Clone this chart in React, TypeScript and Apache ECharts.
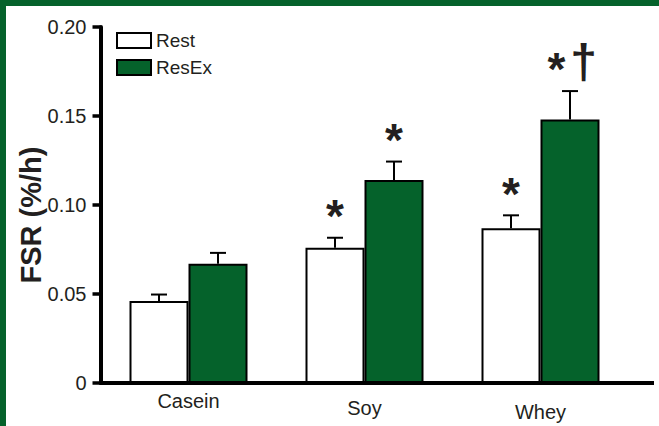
import React, { useEffect, useRef } from "react";
import * as echarts from "echarts";

// Protein sources on the x axis
const categories = ["Casein", "Soy", "Whey"];

// Fractional synthetic rate, mean and SE (%/h)
const restMean = [0.046, 0.076, 0.087];
const restSE = [0.0037, 0.0056, 0.0072];
const resexMean = [0.067, 0.114, 0.148];
const resexSE = [0.0061, 0.0104, 0.016];

// Significance markers drawn above each bar
const restMarks = ["", "*", "*"];
const resexMarks = ["", "*", "*†"];

// Y axis ticks
const yMin = 0;
const yMax = 0.2;
const yStep = 0.05;

const GREEN = "#05622b";
const INK = "#231f20";
const FONT = '"Liberation Sans", Arial, Helvetica, sans-serif';
const BAR_W = 59;
const CAP_HALF = 8;
const MARK_GAP = 30;
const MARK_SPACING = 27;
const STAR_SIZE = 46;
const DAGGER_SIZE = 48;

const labelOffsets = [0, 7, 11];

function errorSeries(name: string, means: number[], ses: number[], marks: string[], side: number) {
  return {
    type: "custom",
    name,
    silent: true,
    z: 5,
    data: means.map((m, i) => [i, m, ses[i]]),
    renderItem: (params: any, api: any) => {
      const i = api.value(0);
      const m = api.value(1);
      const se = api.value(2);
      const base = api.coord([i, m]);
      const top = api.coord([i, m + se]);
      const x = base[0] + (side * BAR_W) / 2;
      const children: any[] = [
        {
          type: "line",
          shape: { x1: x, y1: base[1], x2: x, y2: top[1] },
          style: { stroke: "#000", lineWidth: 2 },
        },
        {
          type: "line",
          shape: { x1: x - CAP_HALF, y1: top[1], x2: x + CAP_HALF, y2: top[1] },
          style: { stroke: "#000", lineWidth: 2 },
        },
      ];
      const chars = Array.from(marks[params.dataIndex] || "");
      const n = chars.length;
      chars.forEach((ch, k) => {
        const isStar = ch === "*";
        children.push({
          type: "text",
          x: x + (k - (n - 1) / 2) * MARK_SPACING,
          y: top[1] - MARK_GAP + (isStar ? STAR_SIZE * 0.18 : 0),
          style: {
            text: ch,
            fontSize: isStar ? STAR_SIZE : DAGGER_SIZE,
            fontFamily: FONT,
            fontWeight: "bold",
            fill: INK,
            align: "center",
            verticalAlign: "middle",
          },
        });
      });
      return { type: "group", children };
    },
  };
}

export default function App() {
  const ref = useRef<HTMLDivElement>(null);

  useEffect(() => {
    if (!ref.current) return;
    const chart = echarts.init(ref.current, undefined, { renderer: "svg" });
    const rich: any = {};
    labelOffsets.forEach((off, i) => {
      rich["c" + i] = { fontSize: 20, fontFamily: FONT, color: INK, padding: [off, 0, 0, 0] };
    });
    chart.setOption({
      animation: false,
      backgroundColor: "#fff",
      grid: { left: 100.5, right: 30.5, top: 27, bottom: 43, containLabel: false },
      legend: {
        orient: "vertical",
        left: 116,
        top: 31,
        padding: 0,
        itemWidth: 34,
        itemHeight: 15,
        itemGap: 8,
        icon: "rect",
        selectedMode: false,
        textStyle: { fontSize: 19, fontFamily: FONT, color: INK },
        data: [
          { name: "Rest", itemStyle: { color: "#fff", borderColor: "#000", borderWidth: 2 } },
          { name: "ResEx", itemStyle: { color: GREEN, borderColor: "#000", borderWidth: 2 } },
        ],
      },
      xAxis: {
        type: "category",
        data: categories,
        axisLine: { lineStyle: { color: "#000", width: 4 } },
        axisTick: { show: false },
        axisLabel: {
          margin: 8,
          fontSize: 20,
          fontFamily: FONT,
          color: INK,
          formatter: (v: string, idx: number) => `{c${idx}|${v}}`,
          rich,
        },
      },
      yAxis: {
        type: "value",
        min: yMin,
        max: yMax,
        interval: yStep,
        splitLine: { show: false },
        axisLine: { show: true, lineStyle: { color: "#000", width: 4 } },
        axisTick: { show: true, length: 8, lineStyle: { color: "#000", width: 3.5 } },
        axisLabel: {
          margin: 14,
          fontSize: 20,
          fontFamily: FONT,
          color: INK,
          formatter: (v: number) => (v === 0 ? "0" : v.toFixed(2)),
        },
      },
      graphic: [
        { type: "rect", shape: { x: 0, y: 0, width: 659, height: 6 }, style: { fill: GREEN }, z: 100 },
        { type: "rect", shape: { x: 0, y: 0, width: 6, height: 426 }, style: { fill: GREEN }, z: 100 },
        {
          type: "line",
          shape: { x1: 626, y1: 383, x2: 654, y2: 383 },
          style: { stroke: "#000", lineWidth: 4 },
          z: 50,
        },
        {
          type: "text",
          x: 31,
          y: 215,
          rotation: Math.PI / 2,
          style: {
            text: "FSR (%/h)",
            fontSize: 29,
            fontWeight: "bold",
            fontFamily: FONT,
            fill: INK,
            align: "center",
            verticalAlign: "middle",
          },
        },
      ],
      series: [
        {
          type: "bar",
          name: "Rest",
          data: restMean,
          barWidth: BAR_W,
          barGap: "0%",
          itemStyle: { color: "#fff", borderColor: "#000", borderWidth: 2 },
        },
        {
          type: "bar",
          name: "ResEx",
          data: resexMean,
          barWidth: BAR_W,
          barGap: "0%",
          itemStyle: { color: GREEN, borderColor: "#000", borderWidth: 2 },
        },
        errorSeries("Rest SE", restMean, restSE, restMarks, -1),
        errorSeries("ResEx SE", resexMean, resexSE, resexMarks, 1),
      ],
    });
    return () => chart.dispose();
  }, []);

  return (
    <div
      ref={ref}
      style={{ position: "fixed", left: 0, top: 0, width: 659, height: 426 }}
    />
  );
}
